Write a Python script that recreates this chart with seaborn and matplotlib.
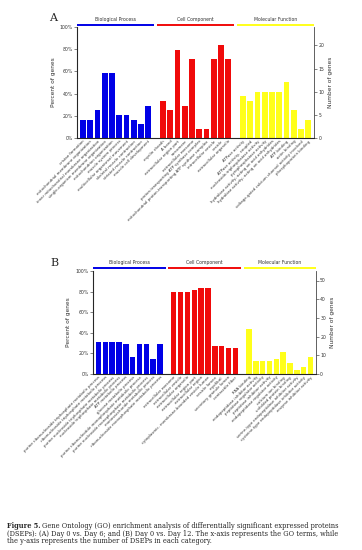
import numpy as np
import pandas as pd
import matplotlib
matplotlib.use("Agg")
import matplotlib.pyplot as plt
import seaborn as sns

sns.set_style("white")
plt.rcParams['font.family'] = ['DejaVu Sans']

groups = ["Biological Process", "Cell Component", "Molecular Function"]
group_colors = {"Biological Process": "#0000e6",
                "Cell Component": "#f00a0a",
                "Molecular Function": "#ffff1a"}

# ---- panel A : Day 0 vs. Day 6 ----
a_bp_terms = ["cristae formation", "mitochondrial membrane organization",
              "inner mitochondrial membrane organization",
              "single-organism membrane organization", "mitochondrion organization",
              "muscle system process", "multicellular organismal movement",
              "skeletal muscle contraction", "striated muscle contraction",
              "muscle cell development"]
a_bp_counts = [4, 4, 6, 14, 14, 5, 5, 4, 3, 7]
a_cc_terms = ["myelin sheath", "A band", "extracellular region part", "sarcomere",
              "extracellular exosome", "proton-transporting ATP synthase complex",
              "mitochondrial proton-transporting ATP synthase complex",
              "intracellular vesicle", "vesicle", "extracellular organelle"]
a_cc_counts = [8, 6, 19, 7, 17, 2, 2, 17, 20, 17]
a_mf_terms = ["ATPase activity", "ATPase activity, coupled",
              "nucleoside-triphosphatase activity", "pyrophosphatase activity",
              "hydrolase activity, acting on acid anhydrides",
              "hydrolase activity, acting on acid anhydrides",
              "ATP binding", "actin binding",
              "voltage-gated calcium channel activity involved",
              "phosphoprotein binding"]
a_mf_counts = [9, 8, 10, 10, 10, 10, 12, 6, 2, 4]
a_total = 24
a_right_ticks = [0, 5, 10, 15, 20]

# ---- panel B : Day 0 vs. Day 12 ----
b_bp_terms = ["purine ribonucleoside triphosphate metabolic process",
              "ribonucleoside triphosphate metabolic process",
              "purine nucleoside triphosphate metabolic process",
              "nucleoside triphosphate metabolic process",
              "ATP metabolic process", "glucose metabolic process",
              "purine ribonucleotide monophosphate metabolic process",
              "purine nucleoside monophosphate metabolic process",
              "monosaccharide metabolic process",
              "ribonucleoside monophosphate metabolic process"]
b_bp_counts = [17, 17, 17, 17, 16, 9, 16, 16, 8, 16]
b_cc_terms = ["extracellular exosome", "extracellular vesicle",
              "extracellular organelle", "extracellular region part",
              "extracellular region",
              "cytoplasmic, membrane-bounded vesicle lumen",
              "vesicle lumen", "myofibril", "secretory granule lumen",
              "contractile fiber"]
b_cc_counts = [44, 44, 44, 45, 46, 46, 15, 15, 14, 14]
b_mf_terms = ["RNA binding", "endopeptidase inhibitor activity",
              "peptidase regulator activity", "peptidase inhibitor activity",
              "endopeptidase regulator activity", "calcium ion binding",
              "unfolded protein binding",
              "serine-type endopeptidase inhibitor activity",
              "cysteine-type endopeptidase inhibitor activity",
              "enzyme inhibitor activity"]
b_mf_counts = [24, 7, 7, 7, 8, 12, 6, 2, 4, 9]
b_total = 55
b_right_ticks = [0, 10, 20, 30, 40, 50]


def make_df(terms, counts, total):
    rows = []
    for g, (tl, cl) in enumerate(zip(terms, counts)):
        for i, (t, c) in enumerate(zip(tl, cl)):
            rows.append({"pos": g * 11 + i, "term": t, "group": groups[g],
                         "count": c, "percent": 100.0 * c / total})
    return pd.DataFrame(rows)


def draw_panel(ax, df, total, right_ticks, line_y, text_y):
    # categorical slots 0..31, slots 10 and 21 stay empty as group gaps
    sns.barplot(data=df, x="pos", y="percent", hue="group", palette=group_colors,
                order=list(range(32)), dodge=False, legend=False, width=0.8,
                saturation=1, linewidth=0, ax=ax)
    ax.set_xlim(-0.8, 31.8)
    ax.set_ylim(0, 100)
    ax.set_xticks(df["pos"])
    ax.set_xticklabels(df["term"], rotation=45, ha="right",
                       rotation_mode="anchor", fontsize=2.8, color="#333333")
    ax.set_yticks([0, 20, 40, 60, 80, 100])
    ax.set_yticklabels(["0%", "20%", "40%", "60%", "80%", "100%"],
                       fontsize=3.3, color="#333333")
    ax.tick_params(axis="x", length=0, pad=1)
    ax.tick_params(axis="y", length=2, width=0.4, pad=1, left=True)
    ax.set_xlabel("")
    ax.set_ylabel("Percent of genes", fontsize=4.2, color="#333333", labelpad=3)
    for s in ["left", "bottom", "right"]:
        ax.spines[s].set_linewidth(0.5)
        ax.spines[s].set_color("#555555")
    ax.spines["top"].set_visible(False)

    ax2 = ax.twinx()
    ax2.set_ylim(0, total)
    ax2.set_yticks(right_ticks)
    ax2.set_yticklabels([str(t) for t in right_ticks], fontsize=3.3, color="#333333")
    ax2.tick_params(axis="y", length=2, width=0.4, pad=1)
    ax2.set_ylabel("Number of genes", fontsize=4.2, color="#333333", labelpad=3)
    ax2.spines["top"].set_visible(False)
    ax2.spines["right"].set_linewidth(0.5)
    ax2.spines["right"].set_color("#555555")

    tr = ax.get_xaxis_transform()
    for g, name in enumerate(groups):
        x0 = g * 11 - 0.8
        x1 = g * 11 + 9 + 0.8
        ax.plot([x0, x1], [line_y, line_y], color=group_colors[name], lw=1.4,
                transform=tr, clip_on=False, solid_capstyle="butt")
        ax.text((x0 + x1) / 2, text_y, name, transform=tr, ha="center",
                va="bottom", fontsize=3.3, color="#333333")


fig = plt.figure(figsize=(3.62, 5.5), dpi=100)

df_a = make_df([a_bp_terms, a_cc_terms, a_mf_terms],
               [a_bp_counts, a_cc_counts, a_mf_counts], a_total)
ax_a = fig.add_axes([0.213, 0.749, 0.655, 0.202])
draw_panel(ax_a, df_a, a_total, a_right_ticks, 1.022, 1.045)
fig.text(0.135, 0.968, "A", fontsize=8, family="DejaVu Serif", va="center")

df_b = make_df([b_bp_terms, b_cc_terms, b_mf_terms],
               [b_bp_counts, b_cc_counts, b_mf_counts], b_total)
ax_b = fig.add_axes([0.257, 0.320, 0.616, 0.187])
draw_panel(ax_b, df_b, b_total, b_right_ticks, 1.03, 1.055)
fig.text(0.14, 0.522, "B", fontsize=8, family="DejaVu Serif", va="center")

# caption
cap_font = "DejaVu Serif"
cap_size = 4.75
fig.canvas.draw()
renderer = fig.canvas.get_renderer()
t0 = fig.text(0.02, 1 - 526 / 550, "Figure 5.", fontsize=cap_size, family=cap_font,
              weight="bold", va="center")
bb = t0.get_window_extent(renderer=renderer)
x_next = (bb.x1 + 1.5) / fig.bbox.width
fig.text(x_next, 1 - 526 / 550,
         "Gene Ontology (GO) enrichment analysis of differentially significant expressed proteins",
         fontsize=cap_size, family=cap_font, va="center")
fig.text(0.02, 1 - 533.5 / 550,
         "(DSEPs): (A) Day 0 vs. Day 6; and (B) Day 0 vs. Day 12. The x-axis represents the GO terms, while",
         fontsize=cap_size, family=cap_font, va="center")
fig.text(0.02, 1 - 541 / 550,
         "the y-axis represents the number of DSEPs in each category.",
         fontsize=cap_size, family=cap_font, va="center")

fig.savefig("out.png", dpi=100)
